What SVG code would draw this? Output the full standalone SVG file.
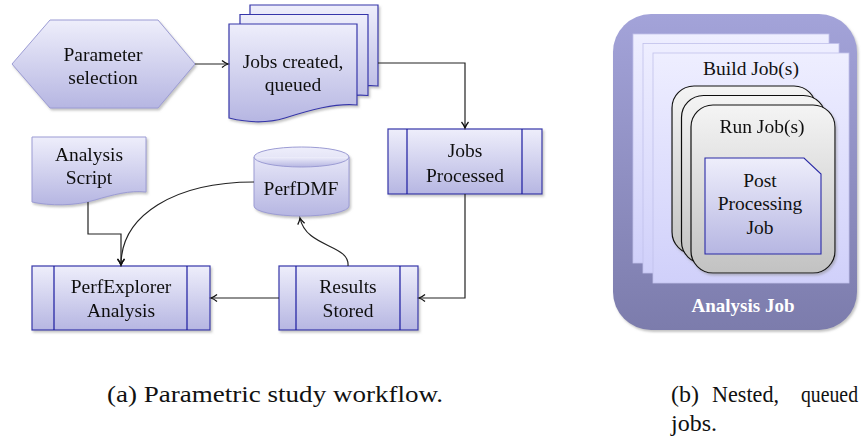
<svg xmlns="http://www.w3.org/2000/svg" width="865" height="436" viewBox="0 0 865 436">
<style>
text{font-family:"Liberation Serif","Times New Roman",serif;font-size:19.5px;fill:#111;text-anchor:middle}
.node{fill:url(#gBlue);stroke:#3636aa;stroke-width:1.2}
.light{fill:url(#gBlue);stroke:#9c9cd4;stroke-width:1}
.inner{stroke:#1c1ca0;stroke-width:1.2;fill:none}
.conn{fill:none;stroke:#222;stroke-width:1.2}
.sheet{fill:url(#gSheet);stroke:#c0c0ec;stroke-width:0.8}
.card{fill:url(#gGray);stroke:#111;stroke-width:1.2}
.cap{font-size:24px;text-anchor:start}
</style>
<defs>
<linearGradient id="gBlue" x1="0" y1="0" x2="0" y2="1">
<stop offset="0" stop-color="#eeeefb"/>
<stop offset="1" stop-color="#b6b6e2"/>
</linearGradient>
<linearGradient id="gOuter" x1="0" y1="0" x2="0" y2="1">
<stop offset="0" stop-color="#a3a3d9"/>
<stop offset="1" stop-color="#7c7cac"/>
</linearGradient>
<linearGradient id="gSheet" x1="0" y1="0" x2="0" y2="1">
<stop offset="0" stop-color="#eeeeff"/>
<stop offset="1" stop-color="#d0d0fa"/>
</linearGradient>
<linearGradient id="gGray" x1="0" y1="0" x2="0" y2="1">
<stop offset="0" stop-color="#f4f4f4"/>
<stop offset="1" stop-color="#c2c2c2"/>
</linearGradient>
<filter id="sh" x="-10%" y="-10%" width="130%" height="130%">
<feDropShadow dx="1.5" dy="2" stdDeviation="1" flood-color="#888" flood-opacity="0.5"/>
</filter>
<marker id="arr" markerWidth="10" markerHeight="10" refX="8" refY="5" orient="auto" markerUnits="userSpaceOnUse">
<path d="M2,1.5 Q5,4 8,5 Q5,6 2,8.5" fill="none" stroke="#111" stroke-width="1.3"/>
</marker>
</defs>

<g id="param-selection" filter="url(#sh)">
<polygon class="light" points="12,64 50,20 158,20 195,64 158,108 50,108"/>
<text x="103" y="61">Parameter</text>
<text x="103" y="84">selection</text>
</g>

<g id="jobs-created" filter="url(#sh)">
<path class="node" transform="translate(21,-19)" d="M229,24 H357 V105 C335,103 310,110 285,118 C265,124 245,122 229,118 Z"/>
<path class="node" transform="translate(11,-9.5)" d="M229,24 H357 V105 C335,103 310,110 285,118 C265,124 245,122 229,118 Z"/>
<path class="node" d="M229,24 H357 V105 C335,103 310,110 285,118 C265,124 245,122 229,118 Z"/>
<text x="293" y="68">Jobs created,</text>
<text x="293" y="91">queued</text>
</g>

<g id="jobs-processed" filter="url(#sh)">
<rect class="node" x="388" y="129" width="154" height="65"/>
<path class="inner" d="M407,129 V194 M522,129 V194"/>
<text x="465" y="157">Jobs</text>
<text x="465" y="182">Processed</text>
</g>

<g id="analysis-script" filter="url(#sh)">
<path class="light" d="M32,137 H146 V192 C130,190 112,195 95,200 C75,206 50,206 32,202 Z"/>
<text x="89" y="161">Analysis</text>
<text x="89" y="184">Script</text>
</g>

<g id="perfdmf" filter="url(#sh)">
<path class="light" d="M254,157 V206 A47.5,10 0 0 0 349,206 V157 A47.5,10 0 0 0 254,157 Z"/>
<path class="light" d="M254,157 A47.5,10 0 0 0 349,157" fill="none"/>
<text x="301" y="195">PerfDMF</text>
</g>

<g id="perfexplorer" filter="url(#sh)">
<rect class="node" x="32" y="266" width="178" height="64"/>
<path class="inner" d="M54,266 V330 M187,266 V330"/>
<text x="121" y="293">PerfExplorer</text>
<text x="121" y="317">Analysis</text>
</g>

<g id="results-stored" filter="url(#sh)">
<rect class="node" x="279" y="266" width="139" height="64"/>
<path class="inner" d="M296,266 V330 M400,266 V330"/>
<text x="348" y="293">Results</text>
<text x="348" y="317">Stored</text>
</g>

<g id="connectors">
<path class="conn" marker-end="url(#arr)" d="M195,64 H228"/>
<path class="conn" marker-end="url(#arr)" d="M378,63 H465 V128"/>
<path class="conn" marker-end="url(#arr)" d="M465,194 V298 H419"/>
<path class="conn" marker-end="url(#arr)" d="M279,298 H211"/>
<path class="conn" marker-end="url(#arr)" d="M348,266 C350,244 306,248 300,218"/>
<path class="conn" marker-end="url(#arr)" d="M88,202 V234 H121 V265"/>
<path class="conn" marker-end="url(#arr)" d="M254,182 C175,182 121,215 121,265"/>
</g>

<g id="analysis-job">
<rect x="613" y="14" width="244" height="316" rx="38" fill="url(#gOuter)" filter="url(#sh)"/>
<text x="743" y="312" style="font-weight:bold;fill:#fff;font-size:19px">Analysis Job</text>
</g>

<g id="build-jobs">
<rect class="sheet" x="633" y="34" width="196" height="229"/>
<rect class="sheet" x="643" y="43.5" width="196" height="229.5"/>
<rect class="sheet" x="653" y="53" width="196" height="230"/>
<text x="751" y="75">Build Job(s)</text>
</g>

<g id="run-jobs" filter="url(#sh)">
<rect class="card" x="672" y="86" width="144" height="168" rx="22"/>
<rect class="card" x="681.5" y="95.5" width="144" height="168" rx="22"/>
<rect class="card" x="691" y="105" width="144" height="168" rx="22"/>
<text x="762" y="133">Run Job(s)</text>
</g>

<g id="post-processing">
<path d="M705,158 H804 L821,174 V254 H705 Z" fill="url(#gBlue)" stroke="#2a2aa6" stroke-width="1.1"/>
<text x="760" y="187">Post</text>
<text x="760" y="210">Processing</text>
<text x="760" y="234">Job</text>
</g>

<g id="captions">
<text class="cap" x="107" y="402" textLength="336" lengthAdjust="spacingAndGlyphs">(a) Parametric study workflow.</text>
<text class="cap" x="671" y="402">(b)</text>
<text class="cap" x="712" y="402" textLength="67" lengthAdjust="spacingAndGlyphs">Nested,</text>
<text class="cap" x="801" y="402" textLength="57" lengthAdjust="spacingAndGlyphs">queued</text>
<text class="cap" x="671" y="431">jobs.</text>
</g>
</svg>
